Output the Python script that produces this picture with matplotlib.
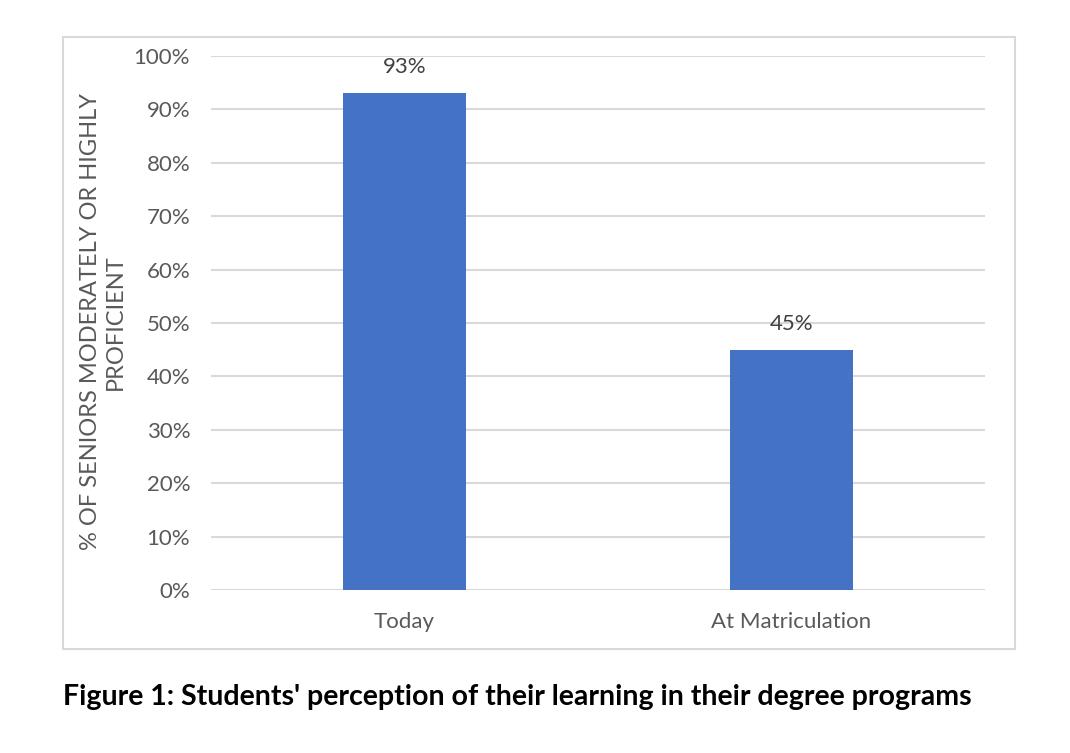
import matplotlib
matplotlib.use('Agg')
import matplotlib.pyplot as plt
from matplotlib.patches import Rectangle

categories = ['Today', 'At Matriculation']
values = [93, 45]
yticks = [0, 10, 20, 30, 40, 50, 60, 70, 80, 90, 100]

plt.rcParams['font.family'] = ['Lato', 'DejaVu Sans']

fig = plt.figure(figsize=(10.7, 7.53), dpi=100)
ax = fig.add_axes([0.1972, 0.2165, 0.7234, 0.7091])

# chart border
fig.patches.append(Rectangle((63 / 1070, 1 - 649 / 753), 952 / 1070, 612 / 753,
                             transform=fig.transFigure, fill=False,
                             edgecolor='#D9D9D9', linewidth=1.5))

x = range(len(categories))
bars = ax.bar(x, values, width=0.316, color='#4472C4', zorder=3)
for b, v in zip(bars, values):
    ax.text(b.get_x() + b.get_width() / 2, v + 3, f'{v}%', ha='center', va='bottom',
            fontsize=16, color='#404040')

ax.set_xlim(-0.5, 1.5)
ax.set_ylim(0, 100)
ax.set_yticks(yticks)
ax.set_yticklabels([f'{t}%' for t in yticks])
ax.set_xticks(list(x))
ax.set_xticklabels(categories)
ax.tick_params(axis='both', length=0, labelsize=16, labelcolor='#595959')
ax.tick_params(axis='y', pad=15)
ax.tick_params(axis='x', pad=16)
ax.grid(axis='y', color='#D9D9D9', linewidth=1.5, zorder=0)
for s in ax.spines.values():
    s.set_visible(False)

fig.text(103 / 1070, 1 - 322 / 753, '% OF SENIORS MODERATELY OR HIGHLY\nPROFICIENT',
         rotation=90, ha='center', va='center', fontsize=17, color='#595959',
         linespacing=1.25)

fig.text(63 / 1070, 1 - 697 / 753, "Figure 1: Students' perception of their learning in their degree programs",
         ha='left', va='center', fontsize=20.5, fontweight='bold', color='black')

fig.savefig('out.png', dpi=100)
